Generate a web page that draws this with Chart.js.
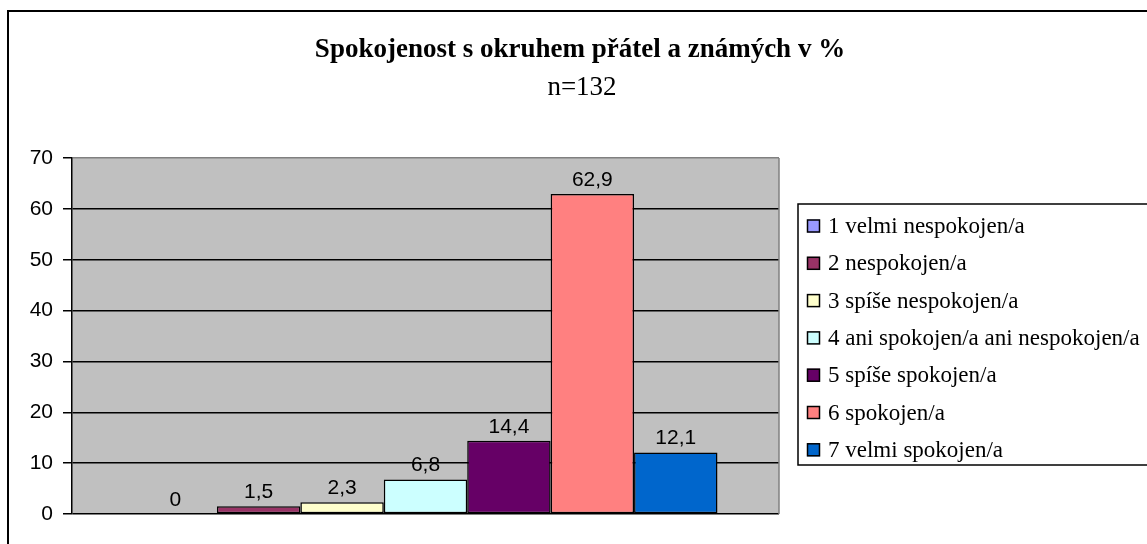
<!DOCTYPE html>
<html>
<head>
<meta charset="utf-8">
<script src="https://cdn.jsdelivr.net/npm/chart.js@4/dist/chart.umd.min.js"></script>
<style>
  body { margin: 0; background: #fff; }
  canvas { display: block; }
</style>
</head>
<body>
<canvas id="chart" width="1147" height="544"></canvas>
<script>
// values
let title = 'Spokojenost s okruhem přátel a známých v %';
let subtitle = 'n=132';
let series_names = [
    '1 velmi nespokojen/a',
    '2 nespokojen/a',
    '3 spíše nespokojen/a',
    '4 ani spokojen/a ani nespokojen/a',
    '5 spíše spokojen/a',
    '6 spokojen/a',
    '7 velmi spokojen/a'
];
let series_values = [0, 1.5, 2.3, 6.8, 14.4, 62.9, 12.1];
let series_colors = ['#9999ff', '#993366', '#ffffcc', '#ccffff', '#660066', '#ff8080', '#0066cc'];
let y_max = 70;
let y_step = 10;

let datasets = series_names.map(function (name, i) {
    return {
        label: name,
        data: [series_values[i]],
        backgroundColor: series_colors[i],
        borderColor: '#000',
        borderWidth: 1.5,
        borderSkipped: false
    };
});

let frame_plugin = {
    id: 'frame',
    beforeDraw: function (chart) {
        let c = chart.ctx;
        let a = chart.chartArea;
        c.save();
        c.fillStyle = '#c0c0c0';
        c.fillRect(a.left, a.top, a.right - a.left, a.bottom - a.top);
        c.restore();
    },
    afterDatasetsDraw: function (chart) {
        let c = chart.ctx;
        let a = chart.chartArea;
        c.save();
        // plot border on the right
        c.strokeStyle = '#808080';
        c.lineWidth = 1.5;
        c.beginPath();
        c.moveTo(a.right, a.top);
        c.lineTo(a.right, a.bottom);
        c.stroke();
        // value labels
        c.fillStyle = '#000';
        c.font = '21px "Liberation Sans", Arial, sans-serif';
        c.textAlign = 'center';
        c.textBaseline = 'alphabetic';
        chart.data.datasets.forEach(function (ds, i) {
            let bar = chart.getDatasetMeta(i).data[0];
            c.fillText(String(ds.data[0]).replace('.', ','), bar.x, bar.y - 8);
        });
        c.restore();
    },
    afterDraw: function (chart) {
        let c = chart.ctx;
        c.save();
        // outer chart frame
        c.strokeStyle = '#000';
        c.lineWidth = 2;
        c.strokeRect(8, 11, 1300, 700);
        // titles
        c.fillStyle = '#000';
        c.textAlign = 'center';
        c.textBaseline = 'alphabetic';
        c.font = 'bold 27px "Liberation Serif", "Times New Roman", serif';
        c.fillText(title, 580, 57);
        c.font = '27px "Liberation Serif", "Times New Roman", serif';
        c.fillText(subtitle, 582, 95);
        // legend
        c.lineWidth = 1.5;
        c.strokeRect(798, 204, 500, 261);
        c.font = '23px "Liberation Serif", "Times New Roman", serif';
        c.textAlign = 'left';
        c.textBaseline = 'middle';
        chart.data.datasets.forEach(function (ds, i) {
            let y = 226 + i * 37.3;
            c.fillStyle = ds.backgroundColor;
            c.fillRect(807, y - 6.5, 13, 13);
            c.strokeStyle = '#000';
            c.lineWidth = 1.5;
            c.strokeRect(807.5, y - 6, 12, 12);
            c.fillStyle = '#000';
            c.fillText(ds.label, 828, y + 1);
        });
        c.restore();
    }
};

let config = {
    type: 'bar',
    data: {
        labels: [''],
        datasets: datasets
    },
    options: {
        responsive: false,
        animation: false,
        layout: {
            padding: { left: 0, top: 158, right: 368, bottom: 30 }
        },
        datasets: {
            bar: { categoryPercentage: 0.826, barPercentage: 1 }
        },
        plugins: {
            legend: { display: false },
            title: { display: false },
            tooltip: { enabled: false }
        },
        scales: {
            x: { display: false },
            y: {
                min: 0,
                max: y_max,
                afterFit: function (scale) { scale.width = 72; },
                ticks: {
                    stepSize: y_step,
                    padding: 10,
                    color: '#000',
                    font: { family: '"Liberation Sans", Arial, sans-serif', size: 21 }
                },
                grid: {
                    color: function (ctx) { return ctx.tick && ctx.tick.value === y_max ? '#808080' : '#000'; },
                    tickColor: '#000',
                    tickLength: 9,
                    lineWidth: 1.5
                },
                border: { display: true, color: '#000', width: 1.5 }
            }
        }
    },
    plugins: [frame_plugin]
};

let ctx1 = document.getElementById('chart').getContext('2d');
window.myBar = new Chart(ctx1, config);
</script>
</body>
</html>
